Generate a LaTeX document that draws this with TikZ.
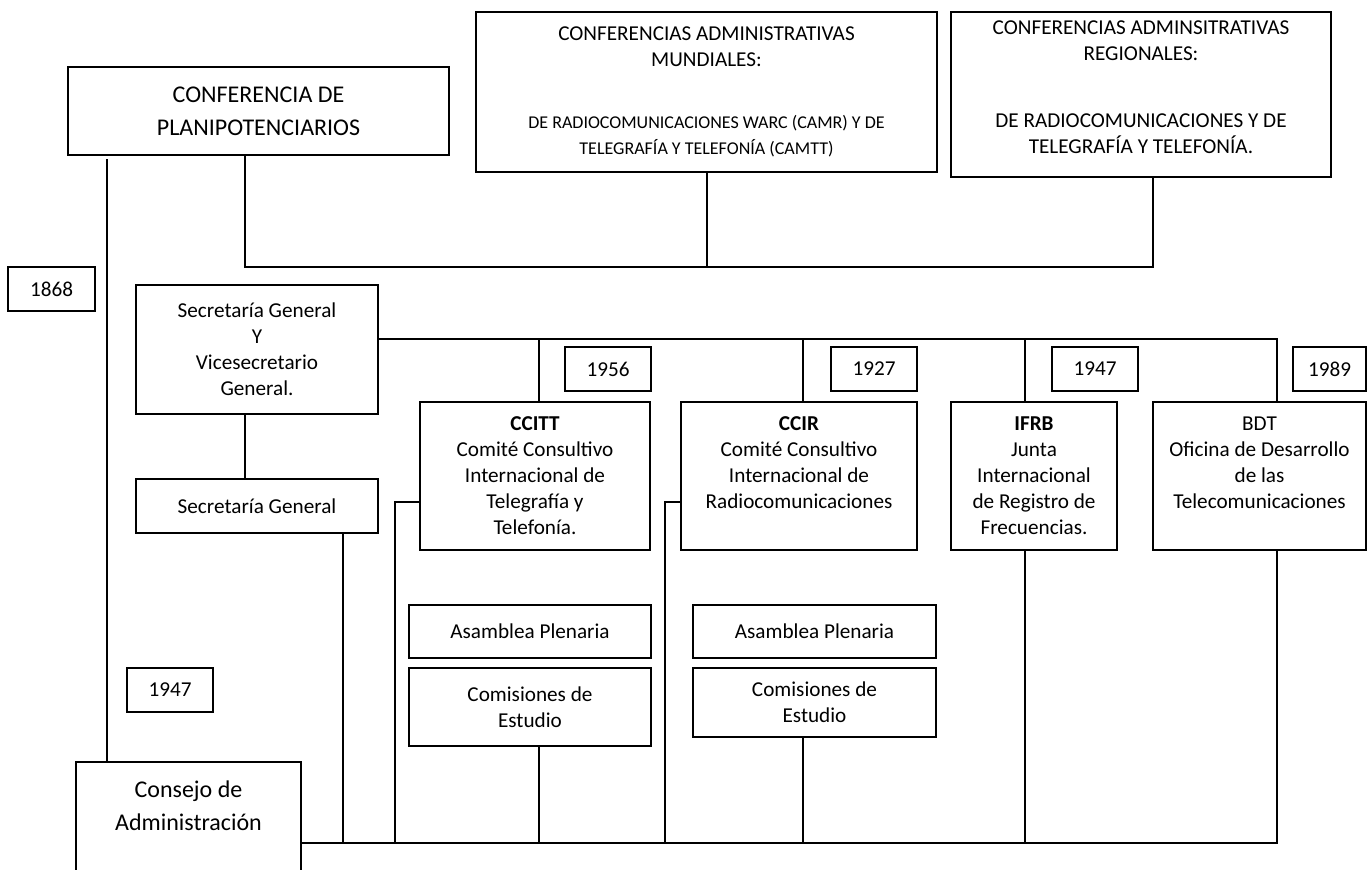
\documentclass[tikz,border=0pt]{standalone}
\usepackage{fontspec}
\setmainfont{Carlito}
\usetikzlibrary{positioning}
\newcommand\subtext{\fontsize{13.5}{19.5}\selectfont}
\tikzset{
    box/.style={draw,line width=1.3pt,align=center,inner sep=0pt,
        font=\fontsize{15.9}{19.5}\selectfont},
    big/.style={font=\fontsize{18}{24.75}\selectfont},
    wh/.style 2 args={minimum width=#1*0.75pt,minimum height=#2*0.75pt},
    wire/.style={line width=1.3pt,line cap=rect},
}
\begin{document}
\begin{tikzpicture}[x=0.75pt,y=-0.75pt]
    \useasboundingbox (0,0) rectangle (1369,869);
    \clip (0,0) rectangle (1369,869);
    % conferencias
    \node[box,big,wh={381}{88}] (plani) at (258.5,111) {CONFERENCIA DE\\PLANIPOTENCIARIOS};
    \node[box,wh={461}{160}] (mund) at (706.5,92) {CONFERENCIAS ADMINISTRATIVAS\\MUNDIALES:\\[27pt]{\subtext DE RADIOCOMUNICACIONES WARC (CAMR) Y DE}\\{\subtext TELEGRAFÍA Y TELEFONÍA (CAMTT)}};
    \node[box,wh={380}{165}] (reg) at (1141,94.5) {CONFERENCIAS ADMINSITRATIVAS\\REGIONALES:\\[31pt]DE RADIOCOMUNICACIONES Y DE\\TELEGRAFÍA Y TELEFONÍA.\\[-8pt]\mbox{}};
    % secretaria y consejo
    \node[box,wh={242}{129}] (sgv) at (257,349.5) {Secretaría General\\Y\\Vicesecretario\\General.};
    \node[box,wh={242}{54}] (sg) at (257,506) {Secretaría General};
    \node[box,big,wh={225}{120}] (consejo) at (188.5,822) {Consejo de\\Administración\\\mbox{}};
    % organos permanentes
    \node[box,wh={230}{148}] (ccitt) at (535,476) {\textbf{CCITT}\\Comité Consultivo\\Internacional de\\Telegrafía y\\Telefonía.};
    \node[box,wh={236}{148}] (ccir) at (799,476) {\textbf{CCIR}\\Comité Consultivo\\Internacional de\\Radiocomunicaciones\\\mbox{}};
    \node[box,wh={166}{148}] (ifrb) at (1034,476) {\textbf{IFRB}\\Junta\\Internacional\\de Registro de\\Frecuencias.};
    \node[box,wh={213}{148}] (bdt) at (1259.5,476) {BDT\\Oficina de Desarrollo\\de las\\Telecomunicaciones\\\mbox{}};
    \node[box,wh={242}{53}] (asm1) at (530,631.5) {Asamblea Plenaria};
    \node[box,wh={242}{78}] (com1) at (530,707) {Comisiones de\\Estudio};
    \node[box,wh={243}{53}] (asm2) at (814.5,631.5) {Asamblea Plenaria};
    \node[box,wh={243}{69}] (com2) at (814.5,702.5) {Comisiones de\\Estudio};
    % anios
    \foreach \name/\x/\y/\w/\txt in {y1868/51.5/289/87/1868,y1947a/170/690/86/1947,
        y1956/608/369/86/1956,y1927/874/369/86/1927,y1947b/1095/369/86/1947,y1989/1329.5/369/73/1989}{
        \node[box,wh={\w}{44}] (\name) at (\x,\y) {\txt};
    }
    % lineas
    \coordinate (topbus) at (0,267);
    \coordinate (midbus) at (0,339);
    \coordinate (botbus) at (0,843);
    \coordinate (hook) at (0,502);
    \coordinate (xleft) at (107,160);
    \foreach \name/\x in {xsg/245,xsgb/343,xhooka/395,xa/539,xhookb/665,xb/803,xc/1025,xd/1277,xmund/707,xreg/1153}
        \coordinate (\name) at (\x,0);
    \draw[wire] (plani.south -| xsg) |- (topbus -| xreg) -- (reg.south -| xreg);
    \draw[wire] (mund.south -| xmund) -- (topbus -| xmund);
    \draw[wire] (xleft) -- (consejo.north -| xleft);
    \draw[wire] (sgv.east |- midbus) -- (midbus -| xd);
    \draw[wire] (sgv.south -| xsg) -- (sg.north -| xsg);
    \draw[wire] (sg.south -| xsgb) -- (botbus -| xsgb);
    \draw[wire] (consejo.east |- botbus) -- (botbus -| xd);
    \foreach \name/\col in {ccitt/xa,ccir/xb,ifrb/xc,bdt/xd}
        \draw[wire] (midbus -| \col) -- (\name.north -| \col);
    \foreach \name/\col in {com1/xa,com2/xb,ifrb/xc,bdt/xd}
        \draw[wire] (\name.south -| \col) -- (botbus -| \col);
    \draw[wire] (ccitt.west |- hook) -| (botbus -| xhooka);
    \draw[wire] (ccir.west |- hook) -| (botbus -| xhookb);
\end{tikzpicture}
\end{document}
